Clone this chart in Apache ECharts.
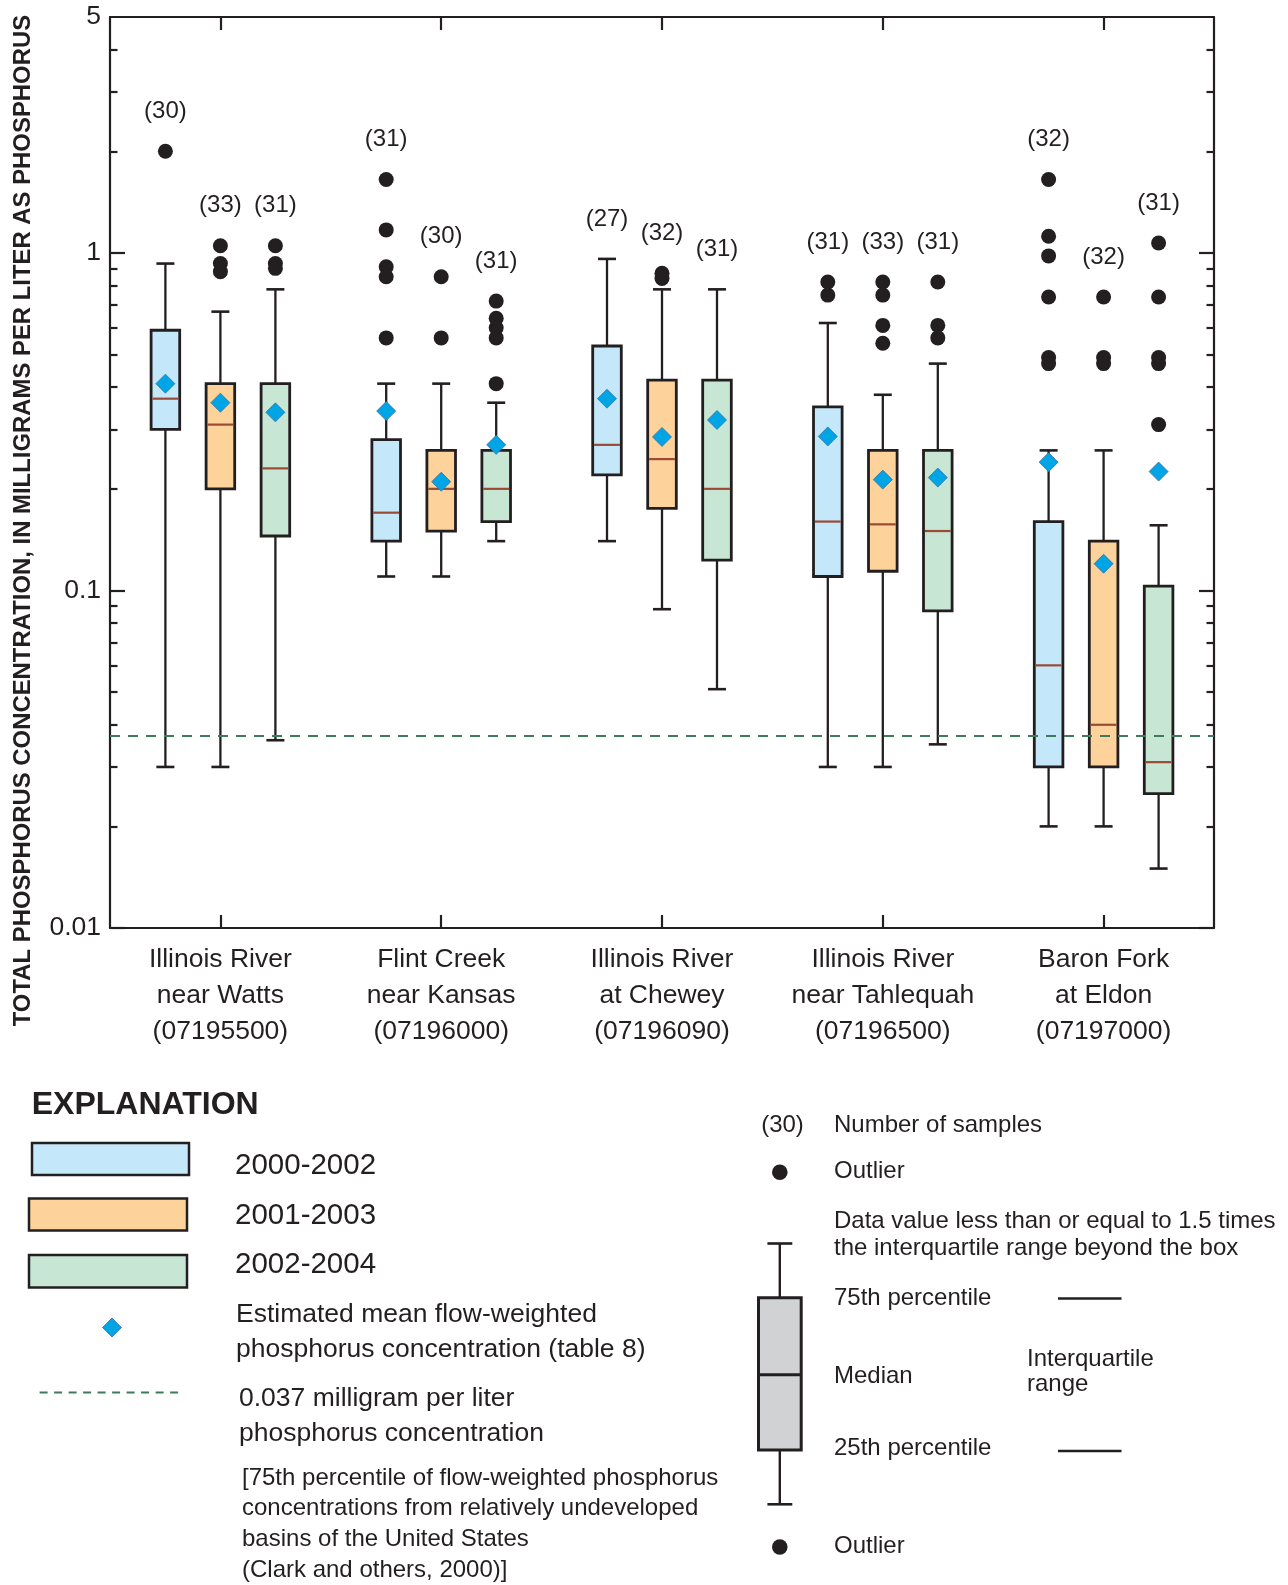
<!DOCTYPE html>
<html>
<head>
<meta charset="utf-8">
<script src="https://cdn.jsdelivr.net/npm/echarts@6/dist/echarts.min.js"></script>
<style>
html,body{margin:0;padding:0;background:#fff;}
#chart{width:1288px;height:1585px;}
</style>
</head>
<body>
<div id="chart"></div>
<script>
// ---------------- DATA ----------------
const categories = [
  'Illinois River\nnear Watts\n(07195500)',
  'Flint Creek\nnear Kansas\n(07196000)',
  'Illinois River\nat Chewey\n(07196090)',
  'Illinois River\nnear Tahlequah\n(07196500)',
  'Baron Fork\nat Eldon\n(07197000)'
];
const periods = ['2000-2002', '2001-2003', '2002-2004'];

// [lower whisker, 25th, median, 75th, upper whisker]
const box2000 = [
  [0.030, 0.30, 0.37, 0.59, 0.93],
  [0.11, 0.14, 0.17, 0.28, 0.41],
  [0.14, 0.22, 0.27, 0.53, 0.96],
  [0.030, 0.11, 0.16, 0.35, 0.62],
  [0.020, 0.030, 0.060, 0.16, 0.26]
];
const box2001 = [
  [0.030, 0.20, 0.31, 0.41, 0.67],
  [0.11, 0.15, 0.20, 0.26, 0.41],
  [0.088, 0.175, 0.245, 0.42, 0.78],
  [0.030, 0.114, 0.157, 0.26, 0.38],
  [0.020, 0.030, 0.040, 0.14, 0.26]
];
const box2002 = [
  [0.036, 0.145, 0.23, 0.41, 0.78],
  [0.14, 0.16, 0.20, 0.26, 0.36],
  [0.051, 0.123, 0.20, 0.42, 0.78],
  [0.035, 0.087, 0.15, 0.26, 0.47],
  [0.015, 0.025, 0.031, 0.103, 0.156]
];

const mean2000 = [0.41, 0.34, 0.37, 0.286, 0.24];
const mean2001 = [0.36, 0.21, 0.285, 0.213, 0.12];
const mean2002 = [0.337, 0.27, 0.32, 0.216, 0.225];

const out2000 = [[2.0], [1.65, 1.17, 0.91, 0.85, 0.56], [], [0.82, 0.75], [1.65, 1.12, 0.98, 0.74, 0.49, 0.47]];
const out2001 = [[1.05, 0.93, 0.88], [0.85, 0.56], [0.87, 0.84], [0.82, 0.75, 0.61, 0.54], [0.74, 0.49, 0.47]];
const out2002 = [[1.05, 0.93, 0.90], [0.72, 0.64, 0.60, 0.56, 0.41], [], [0.82, 0.61, 0.56], [1.07, 0.74, 0.49, 0.47, 0.31]];

const n2000 = [30, 31, 27, 31, 32];
const n2001 = [33, 30, 32, 33, 32];
const n2002 = [31, 31, 31, 31, 31];

const referenceLevel = 0.037;

const yLabelValues = [0.01, 0.1, 1, 5];
const yMajorTicks = [0.01, 0.1, 1];
const yMinorTicks = [0.02, 0.03, 0.04, 0.05, 0.06, 0.07, 0.08, 0.09,
                     0.2, 0.3, 0.4, 0.5, 0.6, 0.7, 0.8, 0.9, 2, 3, 4];

// ---------------- STYLE ----------------
const INK = '#231f20';
const FONT = '"Liberation Sans", Arial, Helvetica, sans-serif';
const fills = ['#c4e8f9', '#fdd39b', '#c8e6d4'];
const offsets = [-55, 0, 55];
const MEDIAN = '#9b4a35';
const DIAMOND = '#00a5e6';
const DIAMOND_BORDER = '#3a6ea5';
const REF = '#3d7b5c';

const boxes = [box2000, box2001, box2002];
const means = [mean2000, mean2001, mean2002];
const outs = [out2000, out2001, out2002];
const counts = [n2000, n2001, n2002];

function boxData(p) {
  return boxes[p].map(function (b, i) {
    const top = Math.max.apply(null, [b[4]].concat(outs[p][i]));
    return [i, b[0], b[1], b[2], b[3], b[4], top, counts[p][i]];
  });
}

function makeRender(p) {
  const off = offsets[p];
  return function (params, api) {
    const ci = api.value(0);
    const pt = function (v) { return api.coord([ci, v]); };
    const x = pt(api.value(1))[0] + off;
    const yMin = pt(api.value(1))[1];
    const yQ1 = pt(api.value(2))[1];
    const yMed = pt(api.value(3))[1];
    const yQ3 = pt(api.value(4))[1];
    const yMax = pt(api.value(5))[1];
    const yTop = pt(api.value(6))[1];
    const hw = 14.3, cap = 9;
    const ls = { stroke: INK, lineWidth: 2.3 };
    return {
      type: 'group',
      children: [
        { type: 'line', shape: { x1: x, y1: yQ3, x2: x, y2: yMax }, style: ls },
        { type: 'line', shape: { x1: x, y1: yQ1, x2: x, y2: yMin }, style: ls },
        { type: 'line', shape: { x1: x - cap, y1: yMax, x2: x + cap, y2: yMax }, style: { stroke: INK, lineWidth: 2.6 } },
        { type: 'line', shape: { x1: x - cap, y1: yMin, x2: x + cap, y2: yMin }, style: { stroke: INK, lineWidth: 2.6 } },
        { type: 'rect', shape: { x: x - hw, y: yQ3, width: hw * 2, height: yQ1 - yQ3 },
          style: { fill: fills[p], stroke: INK, lineWidth: 2.8 } },
        { type: 'line', shape: { x1: x - hw + 1.4, y1: yMed, x2: x + hw - 1.4, y2: yMed },
          style: { stroke: MEDIAN, lineWidth: 2.2 } },
        { type: 'text', x: x, y: yTop - 40,
          style: { text: '(' + api.value(7) + ')', fill: INK, fontSize: 24, fontFamily: FONT,
                   align: 'center', verticalAlign: 'middle' } }
      ]
    };
  };
}

const series = [];
for (let p = 0; p < 3; p++) {
  series.push({
    type: 'custom', name: periods[p], xAxisIndex: 0, yAxisIndex: 0, z: 2,
    renderItem: makeRender(p),
    encode: { x: 0, y: [1, 2, 3, 4, 5, 6] },
    data: boxData(p)
  });
}
for (let p = 0; p < 3; p++) {
  const pts = [];
  outs[p].forEach(function (arr, i) { arr.forEach(function (v) { pts.push([i, v]); }); });
  series.push({
    type: 'scatter', name: periods[p] + ' outliers', xAxisIndex: 0, yAxisIndex: 0, z: 3,
    symbol: 'circle', symbolSize: 15, symbolOffset: [offsets[p], 0],
    itemStyle: { color: INK, opacity: 1 },
    data: pts
  });
}
for (let p = 0; p < 3; p++) {
  const s = {
    type: 'scatter', name: periods[p] + ' mean', xAxisIndex: 0, yAxisIndex: 0, z: 4,
    symbol: 'diamond', symbolSize: 19, symbolOffset: [offsets[p], 0],
    itemStyle: { color: DIAMOND, borderColor: DIAMOND_BORDER, borderWidth: 0.8, opacity: 1 },
    data: means[p].map(function (v, i) { return [i, v]; })
  };
  if (p === 2) {
    s.markLine = {
      silent: true, symbol: 'none', precision: 4, label: { show: false },
      lineStyle: { color: REF, width: 2.2, type: [10, 8], opacity: 1 },
      data: [{ yAxis: referenceLevel }]
    };
  }
  series.push(s);
}

const axisLineStyle = { color: INK, width: 2.2 };
const yBase = { type: 'log', logBase: 10, min: 0.01, max: 5, splitLine: { show: false } };
const fmt = function (v) { return parseFloat(Number(v).toPrecision(4)).toString(); };

// ---------------- LEGEND (EXPLANATION) ----------------
function txt(x, y, t, size, extra, rot) {
  return { type: 'text', x: x, y: y, rotation: rot || 0,
    style: Object.assign({ text: t, fill: INK, fontSize: size, fontFamily: FONT, verticalAlign: 'middle', align: 'left' }, extra || {}) };
}
const graphics = [
  txt(23, 520.6, 'TOTAL PHOSPHORUS CONCENTRATION, IN MILLIGRAMS PER LITER AS PHOSPHORUS', 23.9,
      { fontWeight: 'bold', align: 'center' }, Math.PI / 2),
  txt(31.7, 1105, 'EXPLANATION', 32, { fontWeight: 'bold' }),
  { type: 'rect', shape: { x: 32, y: 1143, width: 157, height: 32 }, style: { fill: fills[0], stroke: INK, lineWidth: 2.5 } },
  { type: 'rect', shape: { x: 29, y: 1198.5, width: 158, height: 32 }, style: { fill: fills[1], stroke: INK, lineWidth: 2.5 } },
  { type: 'rect', shape: { x: 29, y: 1255, width: 158, height: 32.5 }, style: { fill: fills[2], stroke: INK, lineWidth: 2.5 } },
  txt(235, 1165.5, periods[0], 29.5),
  txt(235, 1215.7, periods[1], 29.5),
  txt(235, 1264.9, periods[2], 29.5),
  { type: 'polygon', shape: { points: [[112, 1318], [121.5, 1327.5], [112, 1337], [102.5, 1327.5]] },
    style: { fill: DIAMOND, stroke: DIAMOND_BORDER, lineWidth: 0.8 } },
  txt(236, 1314.4, 'Estimated mean flow-weighted', 26.5),
  txt(236, 1349.6, 'phosphorus concentration (table 8)', 26.5),
  { type: 'line', shape: { x1: 39.6, y1: 1392.4, x2: 182, y2: 1392.4 }, style: { stroke: REF, lineWidth: 2, lineDash: [8, 6.5] } },
  txt(239, 1398.8, '0.037 milligram per liter', 26.5),
  txt(239, 1434, 'phosphorus concentration', 26.5),
  txt(242, 1478.5, '[75th percentile of flow-weighted phosphorus', 24),
  txt(242, 1508.6, 'concentrations from relatively undeveloped', 24),
  txt(242, 1539.4, 'basins of the United States', 24),
  txt(242, 1570.5, '(Clark and others, 2000)]', 24),

  txt(782.5, 1125.3, '(30)', 24, { align: 'center' }),
  txt(834, 1125.3, 'Number of samples', 24),
  { type: 'circle', shape: { cx: 779.8, cy: 1172.2, r: 7.8 }, style: { fill: INK } },
  txt(834, 1171, 'Outlier', 24),
  txt(834, 1221.4, 'Data value less than or equal to 1.5 times', 24),
  txt(834, 1248.5, 'the interquartile range beyond the box', 24),
  { type: 'line', shape: { x1: 779.8, y1: 1243.5, x2: 779.8, y2: 1297.7 }, style: { stroke: INK, lineWidth: 2.4 } },
  { type: 'line', shape: { x1: 779.8, y1: 1450, x2: 779.8, y2: 1504.3 }, style: { stroke: INK, lineWidth: 2.4 } },
  { type: 'line', shape: { x1: 767.4, y1: 1243.5, x2: 792.3, y2: 1243.5 }, style: { stroke: INK, lineWidth: 2.6 } },
  { type: 'line', shape: { x1: 767.4, y1: 1504.3, x2: 792.3, y2: 1504.3 }, style: { stroke: INK, lineWidth: 2.6 } },
  { type: 'rect', shape: { x: 758.5, y: 1297.7, width: 42.7, height: 152.3 }, style: { fill: '#d1d2d4', stroke: INK, lineWidth: 3 } },
  { type: 'line', shape: { x1: 758.5, y1: 1374.7, x2: 801.2, y2: 1374.7 }, style: { stroke: INK, lineWidth: 3 } },
  txt(834, 1298.7, '75th percentile', 24),
  txt(834, 1376.4, 'Median', 24),
  txt(834, 1448.4, '25th percentile', 24),
  { type: 'line', shape: { x1: 1058, y1: 1298.4, x2: 1121.5, y2: 1298.4 }, style: { stroke: INK, lineWidth: 2.5 } },
  { type: 'line', shape: { x1: 1058, y1: 1451, x2: 1121.5, y2: 1451 }, style: { stroke: INK, lineWidth: 2.5 } },
  txt(1027, 1359, 'Interquartile', 24),
  txt(1027, 1384.7, 'range', 24),
  { type: 'circle', shape: { cx: 779.8, cy: 1547, r: 7.8 }, style: { fill: INK } },
  txt(834, 1546.4, 'Outlier', 24)
];

// ---------------- CHART ----------------
const chart = echarts.init(document.getElementById('chart'), null, { renderer: 'canvas' });
chart.setOption({
  animation: false,
  backgroundColor: '#ffffff',
  textStyle: { fontFamily: FONT, color: INK },
  grid: { left: 110, top: 17, width: 1104, height: 911, outerBoundsMode: 'none', containLabel: false },
  xAxis: [
    { type: 'category', data: categories, position: 'bottom', boundaryGap: true,
      axisLine: { show: true, lineStyle: axisLineStyle },
      axisTick: { show: true, inside: true, length: 13, alignWithLabel: true, lineStyle: axisLineStyle },
      axisLabel: { show: true, interval: 0, margin: 13, fontSize: 26.5, lineHeight: 36.4, color: INK, fontFamily: FONT },
      splitLine: { show: false } },
    { type: 'category', data: categories, position: 'top', boundaryGap: true,
      axisLine: { show: true, lineStyle: axisLineStyle },
      axisTick: { show: true, inside: true, length: 13, alignWithLabel: true, lineStyle: axisLineStyle },
      axisLabel: { show: false }, splitLine: { show: false } }
  ],
  yAxis: [
    Object.assign({}, yBase, { position: 'left',
      axisLine: { show: true, lineStyle: axisLineStyle },
      axisTick: { show: true, inside: true, length: 15, customValues: yMajorTicks, lineStyle: axisLineStyle },
      axisLabel: { show: true, customValues: yLabelValues, formatter: fmt, margin: 9, fontSize: 26.5, color: INK, fontFamily: FONT } }),
    Object.assign({}, yBase, { position: 'left',
      axisLine: { show: false },
      axisTick: { show: true, inside: true, length: 7.5, customValues: yMinorTicks, lineStyle: axisLineStyle },
      axisLabel: { show: false } }),
    Object.assign({}, yBase, { position: 'right',
      axisLine: { show: true, lineStyle: axisLineStyle },
      axisTick: { show: true, inside: true, length: 15, customValues: yMajorTicks, lineStyle: axisLineStyle },
      axisLabel: { show: false } }),
    Object.assign({}, yBase, { position: 'right',
      axisLine: { show: false },
      axisTick: { show: true, inside: true, length: 7.5, customValues: yMinorTicks, lineStyle: axisLineStyle },
      axisLabel: { show: false } })
  ],
  series: series,
  graphic: graphics
});
</script>
</body>
</html>
